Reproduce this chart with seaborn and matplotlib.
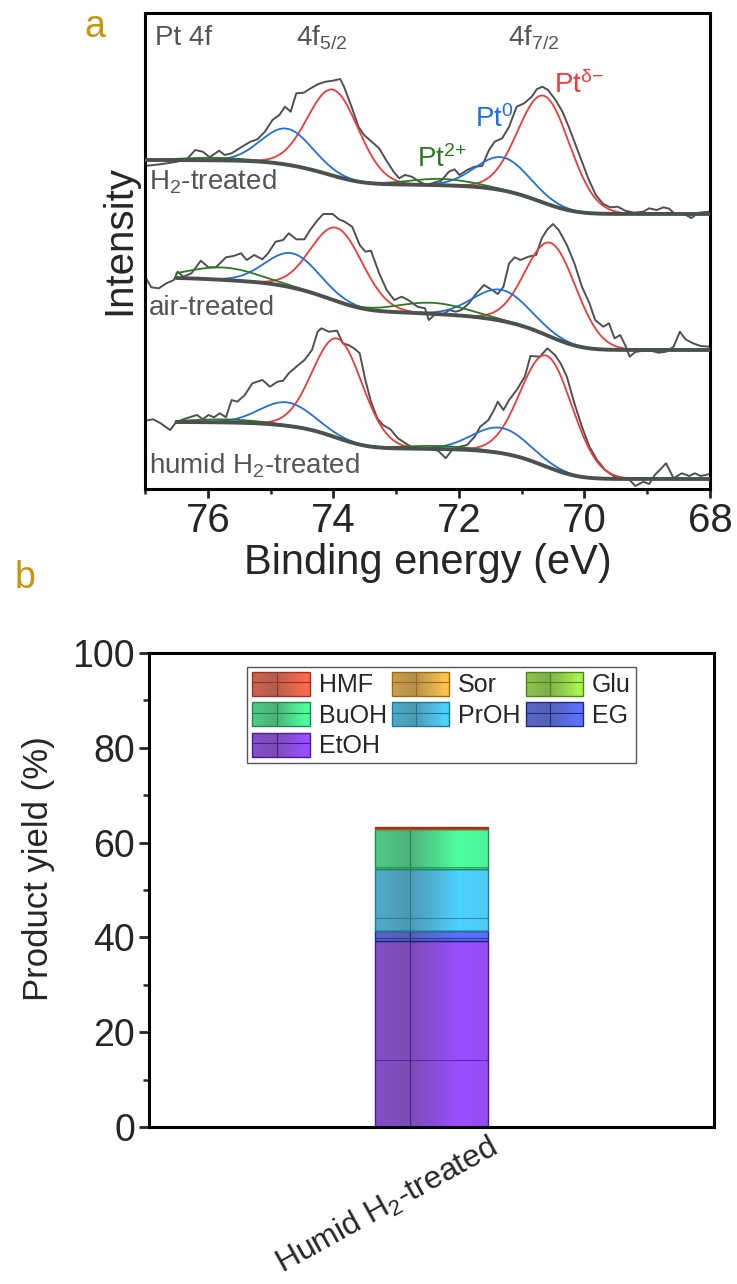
import numpy as np
import pandas as pd
import matplotlib
matplotlib.use("Agg")
import matplotlib.pyplot as plt
import matplotlib.colors as mcolors
from matplotlib.patches import Rectangle, Patch
from matplotlib.lines import Line2D
from matplotlib.legend_handler import HandlerBase
from matplotlib.ticker import MultipleLocator
from matplotlib.transforms import ScaledTranslation
import seaborn as sns

sns.set_style("ticks")
plt.rcParams["font.family"] = ["Liberation Sans", "DejaVu Sans"]
plt.rcParams["mathtext.fontset"] = "custom"
plt.rcParams["mathtext.rm"] = "Liberation Sans"
plt.rcParams["mathtext.it"] = "Liberation Sans:italic"
plt.rcParams["mathtext.default"] = "regular"

# ---------------- Panel a data: Pt 4f XPS (raw spectra) ----------------
h2_be = [77.0, 76.73, 76.49, 76.32, 76.20, 76.08, 75.97, 75.82, 75.73, 75.62, 75.47, 75.32, 75.21,
         75.09, 74.97, 74.86, 74.77, 74.68, 74.59, 74.47, 74.36, 74.24, 74.12, 74.01, 73.89, 73.83,
         73.71, 73.60, 73.51, 73.39, 73.27, 73.16, 73.04, 72.95, 72.86, 72.75, 72.63, 72.51, 72.40,
         72.28, 72.16, 72.07, 71.99, 71.87, 71.75, 71.63, 71.52, 71.43, 71.31, 71.20, 71.08, 70.96,
         70.84, 70.76, 70.67, 70.58, 70.46, 70.35, 70.23, 70.08, 69.94, 69.82, 69.70, 69.59, 69.47,
         69.35, 69.21, 69.06, 68.97, 68.85, 68.74, 68.65, 68.56, 68.41, 68.30, 68.18, 68.03]
h2_int = [323, 325, 327.3, 330.7, 339, 337.3, 331.7, 338.3, 334, 335.7, 341.7, 347.3, 349.7, 357.3,
          369, 374, 382.3, 377.3, 395.7, 396.3, 400.7, 405, 407.3, 408.3, 410, 402.3, 382.3, 362.3,
          354, 347.3, 340.7, 329, 317.3, 310.7, 314, 312.3, 307.3, 304, 306.3, 308.3, 317.3, 319.7,
          314, 319, 322.3, 323, 339, 347.3, 350.7, 362.3, 382.3, 385.7, 392.3, 399.7, 402.3, 399, 389,
          377.3, 359, 334, 310.7, 294, 285, 281.7, 282.3, 278.3, 276.3, 277.3, 280.7, 279, 281.7,
          280.3, 275, 275, 271, 276.3, 277.3]

air_be = [77.0, 76.90, 76.78, 76.66, 76.54, 76.48, 76.39, 76.26, 76.11, 75.99, 75.87, 75.71, 75.59,
          75.47, 75.38, 75.26, 75.13, 75.04, 74.92, 74.80, 74.71, 74.59, 74.46, 74.37, 74.25, 74.16,
          74.01, 73.91, 73.82, 73.70, 73.58, 73.49, 73.40, 73.27, 73.15, 73.03, 72.91, 72.79, 72.66,
          72.54, 72.48, 72.36, 72.27, 72.15, 72.05, 71.96, 71.84, 71.72, 71.60, 71.47, 71.38, 71.29,
          71.20, 71.11, 71.02, 70.89, 70.77, 70.68, 70.59, 70.50, 70.41, 70.28, 70.16, 70.04, 69.92,
          69.83, 69.70, 69.61, 69.52, 69.43, 69.34, 69.28, 69.19, 69.06, 68.94, 68.82, 68.70, 68.58,
          68.48, 68.39, 68.27, 68.15, 68.0]
air_int = [212.3, 201.7, 200.7, 205.7, 209, 217.3, 212.3, 215.7, 228.3, 221.7, 221.7, 231.7, 233,
           235.7, 229, 234, 229.7, 235.7, 247.3, 249, 255.7, 249.7, 249.7, 259, 269, 275, 275, 269.7,
           267.3, 262.3, 244, 237.3, 238.3, 215.7, 199, 189, 192.3, 188.3, 182.3, 180.7, 169, 175.7,
           174, 179, 177.3, 179, 185.7, 195.7, 204, 199, 195, 202.3, 225.7, 231.7, 229, 232.3, 234,
           250.7, 259.7, 265, 259, 244, 225.7, 202.3, 185.7, 169, 162.3, 165.7, 150.7, 154, 142.3,
           132.3, 137, 138.3, 138.3, 136.3, 137.3, 142.3, 157.3, 149.7, 145.7, 143, 142.3]

hum_be = [77.0, 76.87, 76.75, 76.60, 76.51, 76.39, 76.26, 76.17, 76.08, 75.99, 75.90, 75.81, 75.71,
          75.62, 75.53, 75.41, 75.29, 75.13, 75.01, 74.89, 74.80, 74.71, 74.59, 74.46, 74.34, 74.25,
          74.19, 74.07, 73.94, 73.85, 73.76, 73.67, 73.58, 73.49, 73.40, 73.30, 73.21, 73.09, 72.97,
          72.85, 72.72, 72.60, 72.45, 72.33, 72.21, 72.11, 71.99, 71.87, 71.75, 71.66, 71.53, 71.44,
          71.38, 71.29, 71.20, 71.08, 70.95, 70.86, 70.71, 70.59, 70.47, 70.38, 70.28, 70.16, 70.04,
          69.92, 69.80, 69.67, 69.52, 69.37, 69.28, 69.19, 69.06, 68.97, 68.88, 68.79, 68.70, 68.58,
          68.45, 68.33, 68.24, 68.15, 68.0]
hum_int = [68.3, 69.7, 65.7, 59, 66.3, 69.7, 72.3, 74, 69.7, 74, 71.7, 75.7, 71.7, 89, 87.3, 94,
           105.7, 109, 102.3, 107.3, 108.3, 115.7, 122.3, 129, 139, 157.3, 160.7, 157.3, 158.3, 145.7,
           144, 140.7, 135.7, 109, 87.3, 70.7, 64, 59.7, 50.7, 45.7, 40.7, 40.7, 39.7, 38.3, 30.7, 39,
           42.3, 44, 52.3, 62.3, 69, 79, 87.3, 79, 89, 99, 112.3, 133, 132.3, 140.7, 134, 125.7, 112.3,
           85.7, 62.3, 42.3, 29, 19, 12.3, 9.7, 9, 3, 7.3, 5, 14, 19.7, 25.7, 10.7, 15.7, 13, 15.7, 13,
           15]

# fitted components: order = Pt(delta-) 4f7/2, 4f5/2, Pt0 4f7/2, 4f5/2, Pt2+ 4f7/2, 4f5/2
comp_species = ["delta", "delta", "zero", "zero", "two", "two"]
h2_centers = [70.64, 74.00, 71.30, 74.74, 72.28, 75.90]
h2_heights = [107, 86, 33, 36, 6.3, 2.5]
h2_fwhm = [0.97, 0.95, 1.00, 0.95, 1.2, 1.2]
air_centers = [70.53, 73.94, 71.32, 74.65, 72.42, 75.75]
air_heights = [94, 73.3, 31, 34.3, 11, 12.4]
air_fwhm = [0.95, 0.97, 1.05, 1.0, 1.3, 1.3]
hum_centers = [70.60, 73.93, 71.33, 74.74, 72.36, 75.71]
hum_heights = [111, 99.4, 25.3, 23.4, 3, 3]
hum_fwhm = [0.97, 0.93, 1.05, 1.0, 1.3, 1.3]
# Shirley background: (fit start BE, high-BE level, low-BE level)
h2_bg = [77.0, 329, 275]
air_bg = [76.5, 211, 139]
hum_bg = [76.5, 67, 10]

spectra = [
    ("H$_2$-treated", h2_be, h2_int, h2_centers, h2_heights, h2_fwhm, h2_bg, 300),
    ("air-treated", air_be, air_int, air_centers, air_heights, air_fwhm, air_bg, 174),
    ("humid H$_2$-treated", hum_be, hum_int, hum_centers, hum_heights, hum_fwhm, hum_bg, 16),
]

# ---------------- Panel b data ----------------
category = ["Humid H$_2$-treated"]
products = ["EtOH", "EG", "PrOH", "BuOH", "Glu", "Sor", "HMF"]
yields = [39.3, 2.0, 13.1, 8.4, 0.0, 0.3, 0.1]
legend_order = ["HMF", "BuOH", "EtOH", "Sor", "PrOH", "Glu", "EG"]

prod_colors = {"EtOH": "#9b4dff", "EG": "#5c70ff", "PrOH": "#4dd2ff", "BuOH": "#4dff9e",
               "Glu": "#a8f54d", "Sor": "#ffc24d", "HMF": "#ff6a4d"}
prod_edges = {"EtOH": "#4a1a9a", "EG": "#1a2a80", "PrOH": "#1a7a9a", "BuOH": "#1a8a4a",
              "Glu": "#4a8a10", "Sor": "#a06a10", "HMF": "#a03020"}
hline_frac = {"EtOH": 0.36, "EG": 0.3, "PrOH": 0.22, "BuOH": 0.06, "Glu": 0.5, "Sor": 0.5, "HMF": 0.5}

species_colors = {"delta": "#f03a3a", "zero": "#1f6fde", "two": "#2a7a22"}
raw_color = "#505050"
bg_color = "#4b514d"
label_gray = "#555555"
gold = "#c8960c"

# ---------------- Figure ----------------
W, H = 737, 1284
fig = plt.figure(figsize=(W / 100, H / 100), dpi=100)
axa = fig.add_axes([145 / W, 1 - 489 / H, 565 / W, 476 / H])
axb = fig.add_axes([149 / W, 1 - 1127 / H, 565 / W, 474 / H])

for ax in (axa, axb):
    for s in ax.spines.values():
        s.set_linewidth(2.2)
        s.set_color("black")
        s.set_visible(True)


def gauss(x, c, h, w):
    return h * np.exp(-4 * np.log(2) * (x - c) ** 2 / w ** 2)


for label, be, inten, cen, hei, fw, bgp, lab_y in spectra:
    sns.lineplot(x=be, y=inten, ax=axa, color=raw_color, lw=1.4, estimator=None, sort=False, zorder=2)
    grid = np.linspace(68.0, bgp[0], 600)
    peaks = [gauss(grid, c, h, w) for c, h, w in zip(cen, hei, fw)]
    tot = np.sum(peaks, axis=0)
    cum = np.concatenate([[0], np.cumsum((tot[1:] + tot[:-1]) / 2 * np.diff(grid))])
    bg = bgp[2] + (bgp[1] - bgp[2]) * cum / cum[-1]
    for sp, pk in zip(comp_species, peaks):
        sns.lineplot(x=grid, y=bg + pk, ax=axa, color=species_colors[sp], lw=1.3,
                     estimator=None, sort=False, zorder=3)
    sns.lineplot(x=grid, y=bg, ax=axa, color=bg_color, lw=2.8, estimator=None, sort=False, zorder=4)
    axa.text(76.94, lab_y, label, color=label_gray, fontsize=20, ha="left", va="baseline")

axa.set_xlim(77, 68)
axa.set_ylim(0, 476)
axa.set_yticks([])
axa.xaxis.set_major_locator(MultipleLocator(2))
axa.xaxis.set_minor_locator(MultipleLocator(1))
axa.tick_params(axis="x", which="major", direction="out", length=6.5, width=2, labelsize=29, pad=3,
                top=False, bottom=True)
axa.tick_params(axis="x", which="minor", direction="out", length=3.4, width=1.8, top=False, bottom=True)
axa.set_xlabel("Binding energy (eV)", fontsize=30, labelpad=2)
axa.set_ylabel("Intensity", fontsize=29)
axa.yaxis.set_label_coords(-0.012, 0.523)

axa.text(76.84, 444, "Pt 4f", color=label_gray, fontsize=20, ha="left", va="baseline")
axa.text(74.6, 444, "4f$_{5/2}$", color=label_gray, fontsize=20, ha="left", va="baseline")
axa.text(71.22, 444, "4f$_{7/2}$", color=label_gray, fontsize=20, ha="left", va="baseline")
axa.text(70.49, 395.7, "Pt$^{δ{-}}$", color=species_colors["delta"], fontsize=20,
         ha="left", va="baseline")
axa.text(71.75, 362.3, "Pt$^{0}$", color=species_colors["zero"], fontsize=20, ha="left", va="baseline")
axa.text(72.66, 321.7, "Pt$^{2{+}}$", color=species_colors["two"], fontsize=20, ha="left", va="baseline")

# ---------------- Panel b ----------------
dark = np.array(mcolors.to_rgb("#505050"))
prof_pos = [0.0, 0.3, 0.75, 1.0]
prof_mix = [0.3, 0.45, 0.0, 0.06]


def gradient_row(color, n=64, pos=prof_pos, mix=prof_mix):
    base = np.array(mcolors.to_rgb(color))
    t = np.linspace(0, 1, n)
    a = np.interp(t, pos, mix)
    return base[None, :] * (1 - a[:, None]) + dark[None, :] * a[:, None]


bottom = 0.0
seg_patches = []
for name, val in zip(products, yields):
    n_before = len(axb.patches)
    sns.barplot(x=category, y=[val], bottom=bottom, color=prod_colors[name], saturation=1,
                width=0.4, errorbar=None, edgecolor=prod_edges[name], linewidth=1.0, ax=axb, zorder=3)
    seg_patches.append((name, axb.patches[n_before]))
    bottom += val

for name, p in seg_patches:
    x0, w, y0, h = p.get_x(), p.get_width(), p.get_y(), p.get_height()
    if h <= 0:
        continue
    img = gradient_row(prod_colors[name])[None, :, :]
    axb.imshow(img, extent=(x0, x0 + w, y0, y0 + h), aspect="auto", interpolation="bilinear", zorder=2.5)
    axb.plot([x0 + 0.31 * w] * 2, [y0, y0 + h], color=prod_edges[name], lw=0.8, zorder=2.8)
    if h > 1:
        axb.plot([x0, x0 + w], [y0 + hline_frac[name] * h] * 2, color=prod_edges[name], lw=0.8,
                 alpha=0.7, zorder=2.8)
    p.set_facecolor("none")
    p.set_zorder(3)


class GradientHandler(HandlerBase):
    def __init__(self, color, edge):
        super().__init__()
        self.color = color
        self.edge = edge

    def create_artists(self, legend, orig_handle, xdescent, ydescent, width, height, fontsize, trans):
        cols = gradient_row(self.color, n=30, pos=[0, 0.4, 0.95, 1.0], mix=[0.3, 0.45, 0.0, 0.02])
        arts = []
        n = len(cols)
        for i, c in enumerate(cols):
            r = Rectangle((-xdescent + i * width / n, -ydescent), width / n * 1.08, height,
                          facecolor=c, edgecolor="none", transform=trans)
            arts.append(r)
        arts.append(Line2D([-xdescent + 0.43 * width] * 2, [-ydescent, -ydescent + height],
                           color=self.edge, lw=0.8, transform=trans))
        arts.append(Line2D([-xdescent, -xdescent + width], [-ydescent + 0.58 * height] * 2,
                           color=self.edge, lw=0.8, transform=trans))
        arts.append(Rectangle((-xdescent, -ydescent), width, height, facecolor="none",
                              edgecolor=self.edge, lw=1.0, transform=trans))
        return arts


handles = [Patch(facecolor=prod_colors[n]) for n in legend_order]
hmap = {h: GradientHandler(prod_colors[n], prod_edges[n]) for h, n in zip(handles, legend_order)}
leg = axb.legend(handles, legend_order, handler_map=hmap, ncol=3, loc="upper left",
                 bbox_to_anchor=(0.1735, 0.9705), borderaxespad=0, fontsize=18, frameon=True,
                 fancybox=False, edgecolor="#555555", framealpha=1, handlelength=2.3,
                 handleheight=1.1, handletextpad=0.36, columnspacing=0.2, labelspacing=0.2,
                 borderpad=0.2)
leg.get_frame().set_linewidth(1.0)

axb.set_xlim(-1, 1)
axb.set_ylim(0, 100)
axb.yaxis.set_major_locator(MultipleLocator(20))
axb.yaxis.set_minor_locator(MultipleLocator(10))
axb.tick_params(axis="y", which="major", direction="out", length=7, width=2, labelsize=27, pad=3,
                right=False, left=True)
axb.tick_params(axis="y", which="minor", direction="out", length=4, width=1.8, right=False, left=True)
axb.set_xticks([0])
axb.set_xticklabels(category, rotation=29, ha="right", rotation_mode="anchor", fontsize=23)
axb.tick_params(axis="x", which="both", length=0, pad=3, top=False)
for lab in axb.get_xticklabels():
    lab.set_transform(lab.get_transform() + ScaledTranslation(0.56, 0, fig.dpi_scale_trans))
axb.set_xlabel("")
axb.set_ylabel("Product yield (%)", fontsize=25)
axb.yaxis.set_label_coords(-0.166, 0.546)

fig.text(95 / W, 1 - 27 / H, "a", color=gold, fontsize=27, ha="center", va="center")
fig.text(25 / W, 1 - 578 / H, "b", color=gold, fontsize=27, ha="center", va="center")

fig.savefig("out.png", dpi=100)
